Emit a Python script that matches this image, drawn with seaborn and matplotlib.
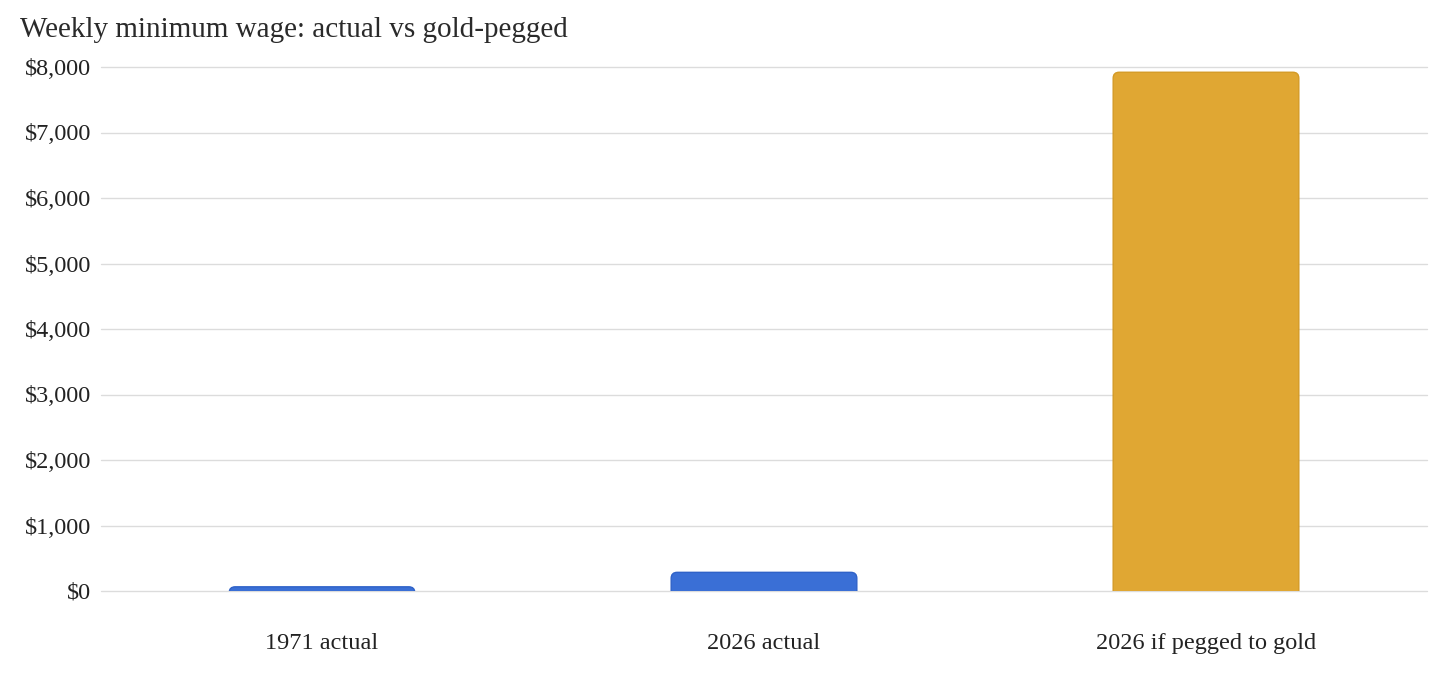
import pandas as pd
import matplotlib.pyplot as plt
import seaborn as sns
from matplotlib.patches import FancyBboxPatch
from matplotlib.ticker import FuncFormatter

categories = ["1971 actual", "2026 actual", "2026 if pegged to gold"]
weekly_wage = [64, 285, 7920]
bar_colors = ["#3a6fd6", "#3a6fd6", "#e0a733"]
edge_colors = ["#2f62c8", "#2f62c8", "#d49a25"]

data = pd.DataFrame({"Category": categories, "Wage": weekly_wage})

sns.set_theme(style="white")
plt.rcParams["font.family"] = ["Liberation Serif", "DejaVu Serif"]

fig = plt.figure(figsize=(14.56, 6.79), dpi=100)
ax = fig.add_axes([101 / 1456, 1 - 591 / 679, 1326 / 1456, 524 / 679])

sns.barplot(x="Category", y="Wage", data=data, hue="Category",
            palette=bar_colors, width=0.42, legend=False, ax=ax)

# swap the plain bars for ones with rounded top corners
x_per_px = 3 / 1326
y_per_px = 8000 / 524
r_px = 6
for patch, fc, ec in zip(list(ax.patches), bar_colors, edge_colors):
    x0 = patch.get_x()
    w = patch.get_width()
    h = patch.get_height()
    below = 300
    rounded = FancyBboxPatch(
        (x0, -below), w, h + below,
        boxstyle=f"round,pad=0,rounding_size={r_px * x_per_px}",
        mutation_aspect=y_per_px / x_per_px,
        facecolor=fc, edgecolor=ec, linewidth=1, zorder=3)
    patch.remove()
    ax.add_patch(rounded)

ax.set_ylim(0, 8000)
ax.set_xlim(-0.5, 2.5)
ax.set_yticks(range(0, 8001, 1000))
ax.yaxis.set_major_formatter(FuncFormatter(lambda v, p: f"${v:,.0f}"))
ax.grid(axis="y", color="#dcdcdc", linewidth=1)
for gl in ax.get_ygridlines():
    gl.set_clip_on(False)
ax.set_axisbelow(True)
for s in ax.spines.values():
    s.set_visible(False)
ax.set_xlabel("")
ax.set_ylabel("")
ax.tick_params(axis="y", length=0, pad=7, labelsize=17.5, labelcolor="#222222")
ax.tick_params(axis="x", length=0, pad=30, labelsize=17.5, labelcolor="#222222")

fig.text(20 / 1456, 1 - 30 / 679, "Weekly minimum wage: actual vs gold-pegged",
         fontsize=21, color="#2a2a2a", va="center", ha="left")

fig.savefig("out.png", dpi=100)
